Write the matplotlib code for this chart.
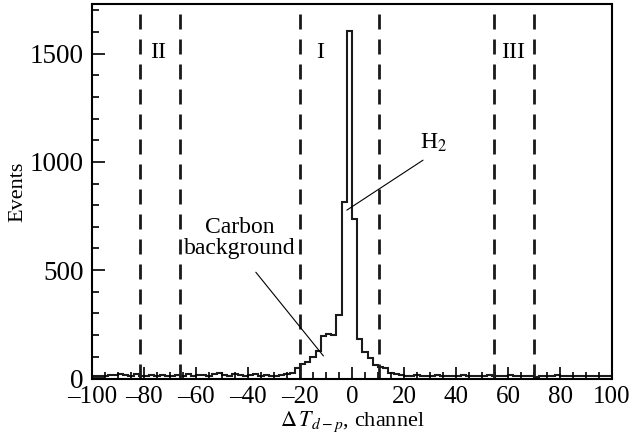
import numpy as np
import matplotlib
matplotlib.use('Agg')
import matplotlib.pyplot as plt
from matplotlib.ticker import MultipleLocator, FuncFormatter

plt.rcParams["font.family"] = "serif"
plt.rcParams["font.serif"] = ["Liberation Serif", "DejaVu Serif"]
plt.rcParams["mathtext.fontset"] = "stix"

# histogram: 2-channel bins from -100 to 100
edges = np.arange(-100, 101, 2)
counts = [
    8, 12, 12, 15, 15, 18, 14, 12, 18, 12,        # -100 .. -82
    12, 14, 10, 14, 10, 12, 15, 12, 18, 10,       # -80 .. -62
    14, 16, 12, 20, 22, 14, 12, 18, 14, 10,       # -60 .. -42
    16, 20, 12, 14, 12, 10, 14, 18, 26, 46,       # -40 .. -22
    66, 77, 100, 127, 197, 205, 200, 292, 815, 1604,  # -20 .. -2
    734, 181, 123, 92, 59, 50, 46, 26, 20, 14,    # 0 .. 18
    12, 12, 16, 12, 10, 12, 14, 10, 12, 12,       # 20 .. 38
    10, 14, 10, 12, 12, 10, 14, 10, 12, 10,       # 40 .. 58
    14, 8, 10, 12, 10, 6, 10, 12, 10, 14,         # 60 .. 78
    12, 8, 10, 12, 8, 10, 8, 8, 10, 8,            # 80 .. 98
]

# window boundaries (dashed lines) and their labels
cuts = [-81.5, -66.3, -20, 10.2, 54.6, 70.0]
regions = ['II', 'I', 'III']
region_x = [-74.6, -12.3, 61.9]

fig = plt.figure(figsize=(6.32, 4.43), dpi=100)
ax = fig.add_axes([0.1456, 0.1438, 0.8228, 0.8472])

ax.stairs(counts, edges, color='#1a1a1a', lw=1.5)

for c in cuts:
    ax.axvline(c, color='#1a1a1a', lw=2.0, dashes=(5.4, 3.6))

for name, x in zip(regions, region_x):
    ax.text(x, 1506, name, ha='center', va='center', fontsize=17)

# annotations
ax.annotate('', xy=(-11, 103), xytext=(-37, 490),
            arrowprops=dict(arrowstyle='-', lw=0.8, color='black',
                            shrinkA=0, shrinkB=0))
ax.text(-43.1, 647, 'Carbon\nbackground', ha='center', va='center',
        fontsize=17, linespacing=1.0)
ax.annotate('', xy=(-2, 777), xytext=(27.3, 1008),
            arrowprops=dict(arrowstyle='-', lw=0.8, color='black',
                            shrinkA=0, shrinkB=0))
ax.text(31.5, 1086, r'H$_2$', ha='center', va='center', fontsize=17)

ax.set_xlim(-100, 100)
ax.set_ylim(-5, 1730)
ax.xaxis.set_major_locator(MultipleLocator(20))
ax.xaxis.set_minor_locator(MultipleLocator(5))
ax.yaxis.set_major_locator(MultipleLocator(500))
ax.yaxis.set_minor_locator(MultipleLocator(100))
fmt = FuncFormatter(lambda v, p: ('%d' % v).replace('-', '\u2013'))
ax.xaxis.set_major_formatter(fmt)
ax.tick_params(which='both', direction='in', top=False, right=False,
               width=1.2)
ax.tick_params(axis='x', labelsize=18, pad=5)
ax.tick_params(axis='y', labelsize=19.5, pad=6)
ax.tick_params(which='major', length=9)
ax.tick_params(which='minor', length=5)
for s in ax.spines.values():
    s.set_linewidth(1.5)

ax.set_xlabel(r'$\Delta\,T_{d-p}$, channel', fontsize=16, labelpad=1)
ax.set_ylabel('Events', fontsize=16, labelpad=2)

fig.savefig('out.png', dpi=100)
